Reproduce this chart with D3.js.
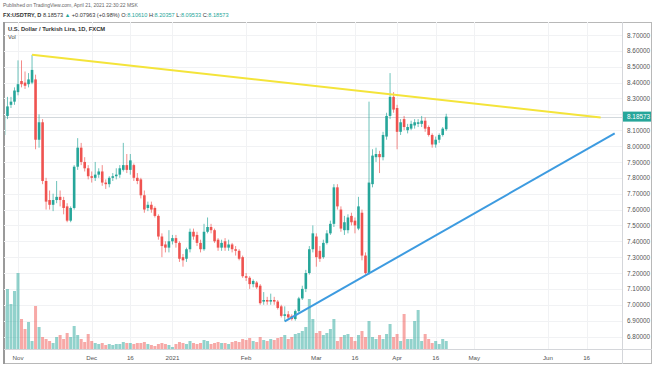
<!DOCTYPE html>
<html>
<head>
<meta charset="utf-8">
<script src="https://cdn.jsdelivr.net/npm/d3@7"></script>
<style>
  body { margin: 0; background: #fff; }
  svg { display: block; font-family: "Liberation Sans", Arial, sans-serif; }
</style>
</head>
<body>
<svg id="chart" width="654" height="366"></svg>
<script>
// daily bars, Oct 27 2020 .. Apr 21 2021 (weekdays)
const open = [8.07,8.19,8.26,8.28,8.34,8.41,8.40,8.39,8.40,8.42,8.04,8.15,7.78,7.66,7.63,7.66,7.68,7.66,7.62,7.53,
  7.61,7.87,7.99,7.90,7.86,7.81,7.80,7.82,7.84,7.77,7.76,7.80,7.81,7.82,7.85,7.88,7.85,7.88,7.80,7.79,
  7.69,7.61,7.63,7.61,7.56,7.43,7.38,7.36,7.40,7.42,7.39,7.30,7.29,7.35,7.46,7.44,7.39,7.35,7.46,7.49,
  7.47,7.41,7.36,7.40,7.36,7.38,7.35,7.34,7.30,7.18,7.17,7.13,7.14,7.12,7.02,7.03,7.02,7.03,7.02,6.99,
  6.93,6.94,6.93,6.91,6.96,7.04,7.10,7.20,7.35,7.43,7.34,7.30,7.39,7.45,7.51,7.74,7.60,7.47,7.47,7.56,
  7.53,7.48,7.58,7.31,7.20,7.76,7.93,7.95,7.93,8.06,8.19,8.31,8.24,8.09,8.17,8.10,8.11,8.13,8.14,8.14,
  8.16,8.12,8.07,8.01,8.04,8.07,8.1061];
const high = [8.21,8.31,8.31,8.37,8.54,8.54,8.47,8.46,8.575,8.45,8.20,8.17,7.80,7.72,7.70,7.78,7.72,7.68,7.64,7.62,
  7.88,8.05,8.02,7.93,7.88,7.84,7.90,7.86,7.88,7.79,7.81,7.83,7.86,7.88,8.02,7.95,7.95,7.89,7.83,7.80,
  7.72,7.65,7.65,7.62,7.57,7.45,7.40,7.47,7.44,7.44,7.40,7.32,7.36,7.48,7.48,7.46,7.41,7.51,7.55,7.51,
  7.48,7.42,7.41,7.42,7.41,7.39,7.37,7.35,7.31,7.20,7.18,7.16,7.15,7.13,7.08,7.05,7.07,7.05,7.03,7.00,
  6.99,6.96,6.94,6.97,7.05,7.12,7.22,7.37,7.50,7.45,7.37,7.41,7.47,7.53,7.76,7.76,7.62,7.56,7.57,7.58,
  7.55,7.68,7.60,7.33,8.28,7.98,7.99,7.97,8.09,8.21,8.46,8.34,8.26,8.17,8.19,8.14,8.16,8.17,8.17,8.19,
  8.18,8.13,8.08,8.06,8.08,8.12,8.20357];
const low = [8.05,8.17,8.24,8.26,8.32,8.37,8.36,8.37,8.39,7.98,7.99,7.76,7.60,7.60,7.59,7.64,7.62,7.57,7.52,7.52,
  7.60,7.85,7.88,7.84,7.79,7.77,7.78,7.80,7.75,7.73,7.74,7.78,7.79,7.80,7.84,7.83,7.82,7.78,7.76,7.67,
  7.58,7.59,7.58,7.55,7.41,7.30,7.33,7.33,7.38,7.36,7.27,7.24,7.27,7.33,7.41,7.37,7.33,7.34,7.45,7.45,
  7.39,7.34,7.34,7.34,7.34,7.33,7.31,7.28,7.17,7.15,7.10,7.11,7.10,7.00,7.00,7.00,7.00,7.00,6.97,6.92,
  6.895,6.91,6.90,6.90,6.95,7.03,7.08,7.19,7.33,7.24,7.27,7.29,7.38,7.44,7.49,7.60,7.46,7.44,7.45,7.50,
  7.45,7.47,7.28,7.19,7.19,7.74,7.90,7.83,7.91,8.04,8.17,8.21,7.98,8.07,8.10,8.08,8.10,8.11,8.12,8.12,
  8.09,8.06,7.99,7.99,8.02,8.06,8.09533];
const close = [8.19,8.25,8.28,8.35,8.39,8.39,8.38,8.42,8.48,8.04,8.15,7.78,7.65,7.63,7.66,7.68,7.66,7.61,7.53,7.61,
  7.87,7.99,7.90,7.86,7.81,7.80,7.82,7.84,7.77,7.76,7.80,7.81,7.82,7.86,7.88,7.85,7.91,7.80,7.78,7.69,
  7.60,7.63,7.60,7.56,7.43,7.37,7.36,7.40,7.42,7.39,7.29,7.28,7.35,7.46,7.43,7.39,7.35,7.46,7.49,7.47,
  7.40,7.36,7.39,7.36,7.38,7.35,7.34,7.29,7.18,7.17,7.13,7.15,7.11,7.01,7.03,7.02,7.03,7.02,6.98,6.93,
  6.94,6.92,6.91,6.96,7.04,7.10,7.20,7.35,7.45,7.30,7.29,7.39,7.45,7.51,7.74,7.62,7.48,7.52,7.55,7.52,
  7.50,7.62,7.31,7.20,7.77,7.94,7.95,7.93,8.07,8.19,8.31,8.23,8.09,8.15,8.12,8.12,8.14,8.15,8.15,8.16,
  8.11,8.07,8.01,8.04,8.07,8.11,8.18573];
// volume, thousands of ticks
const volume = [43,60,45,58,76,30,20,27,8,43,22,12,10,8,6,12,14,10,16,12,
  23,14,10,7,15,8,6,5,6,4,5,4,5,5,7,6,6,5,6,6,
  7,5,4,3,5,6,5,4,2,5,7,6,5,8,6,5,6,9,8,5,
  6,7,6,6,5,7,8,7,10,9,11,8,7,12,9,8,10,9,11,12,
  14,10,12,15,16,18,22,50,30,16,18,14,16,20,30,8,12,14,15,12,
  8,14,18,12,28,12,10,14,10,15,25,12,15,8,35,10,10,28,39,8,
  15,10,6,8,5,10,8];

const firstDay = new Date(2020, 9, 27);
const lastDay = new Date(2021, 6, 1); // axis runs to end of June

const tickDates = ["2020-11-02","2020-12-01","2020-12-16","2021-01-01","2021-02-01","2021-03-01",
  "2021-03-16","2021-04-01","2021-04-16","2021-05-03","2021-06-01","2021-06-16"];
const tickLabels = ["Nov","Dec","16","2021","Feb","Mar","16","Apr","16","May","Jun","16"];
const priceTicks = [6.8,6.9,7.0,7.1,7.2,7.3,7.4,7.5,7.6,7.7,7.8,7.9,8.0,8.1,8.2,8.3,8.4,8.5,8.6,8.7];

// drawn trend lines
const resistanceDates = ["2020-11-06","2021-06-22"];
const resistancePrices = [8.575, 8.18];
const supportDates = ["2021-02-16","2021-06-28"];
const supportPrices = [6.895, 8.08];

const up = "#26a69a", down = "#ef5350";
const fmt = d3.timeFormat("%Y-%m-%d");
const days = d3.timeDay.range(firstDay, lastDay).filter(d => d.getDay() % 6 !== 0).map(fmt);
const bars = open.map((o, i) => ({ date: days[i], o, h: high[i], l: low[i], c: close[i], v: volume[i] }));

const plotL = 4, plotR = 622, plotT = 22, plotB = 349;
const step = 3.51;

const svg = d3.select("#chart");

const x = d3.scaleBand()
  .domain(days)
  .range([3.96 - step / 2, 3.96 - step / 2 + days.length * step])
  .padding(0);
const cx = d => x(d) + x.bandwidth() / 2;

const y = d3.scaleLinear().domain([6.8, 8.7]).range([336.5, 35]);
const yVol = d3.scaleLinear().domain([0, 100]).range([plotB, plotB - 100]);

// frame
svg.append("rect").attr("x", 3.5).attr("y", 22.5).attr("width", 648).attr("height", 341)
  .attr("fill", "#fff").attr("stroke", "#b8b8b8");
svg.append("line").attr("x1", 4).attr("x2", 4).attr("y1", 22).attr("y2", 364)
  .attr("stroke", "#9a9a9a").attr("stroke-width", 2);

// grid
svg.append("g").selectAll("line").data(priceTicks).join("line")
  .attr("x1", plotL).attr("x2", plotR)
  .attr("y1", d => Math.round(y(d)) + 0.5).attr("y2", d => Math.round(y(d)) + 0.5)
  .attr("stroke", "#f1f2f4");
svg.append("g").selectAll("line").data(tickDates).join("line")
  .attr("x1", d => Math.round(cx(d)) + 0.5).attr("x2", d => Math.round(cx(d)) + 0.5)
  .attr("y1", plotT).attr("y2", plotB)
  .attr("stroke", "#f1f2f4");

// separators
svg.append("line").attr("x1", plotR + 0.5).attr("x2", plotR + 0.5).attr("y1", 22).attr("y2", 364)
  .attr("stroke", "#d4d6da");
svg.append("line").attr("x1", 4).attr("x2", 652).attr("y1", plotB + 0.5).attr("y2", plotB + 0.5)
  .attr("stroke", "#d4d6da");

svg.append("clipPath").attr("id", "plot").append("rect")
  .attr("x", plotL + 1).attr("y", plotT).attr("width", plotR - plotL - 1).attr("height", plotB - plotT);
const plot = svg.append("g").attr("clip-path", "url(#plot)");

// last price line
const last = close[close.length - 1];
plot.append("line").attr("x1", plotL).attr("x2", plotR)
  .attr("y1", Math.round(y(last)) + 0.5).attr("y2", Math.round(y(last)) + 0.5)
  .attr("stroke", "#d2d8dc");

// volume
plot.append("g").selectAll("rect").data(bars).join("rect")
  .attr("x", d => cx(d.date) - 1.5)
  .attr("width", 3)
  .attr("y", d => yVol(d.v))
  .attr("height", d => plotB - yVol(d.v))
  .attr("fill", d => d.c >= d.o ? up : down)
  .attr("fill-opacity", 0.5);

// candles
const candle = plot.append("g").selectAll("g").data(bars).join("g");
candle.append("line")
  .attr("x1", d => cx(d.date)).attr("x2", d => cx(d.date))
  .attr("y1", d => y(d.h)).attr("y2", d => y(d.l))
  .attr("stroke", d => d.c >= d.o ? up : down).attr("stroke-width", 0.9).attr("stroke-opacity", 0.75);
candle.append("rect")
  .attr("x", d => cx(d.date) - 1.3)
  .attr("width", 2.6)
  .attr("y", d => y(Math.max(d.o, d.c)))
  .attr("height", d => Math.max(1, Math.abs(y(d.o) - y(d.c))))
  .attr("fill", d => d.c >= d.o ? up : down);

// trend lines
const trend = d3.line().x(d => cx(d[0])).y(d => y(d[1]));
plot.append("path").datum(d3.zip(resistanceDates, resistancePrices))
  .attr("d", trend).attr("fill", "none").attr("stroke", "#f4e43a").attr("stroke-width", 2);
plot.append("path").datum(d3.zip(supportDates, supportPrices))
  .attr("d", trend).attr("fill", "none").attr("stroke", "#3d9be0").attr("stroke-width", 2);

// price axis
const shownTicks = priceTicks.filter(p => Math.abs(y(p) - y(last)) > 7);
const yAxis = svg.append("g").attr("transform", `translate(${plotR},0)`)
  .call(d3.axisRight(y).tickValues(shownTicks).tickFormat(d3.format(".5f")).tickSize(0).tickPadding(5));
yAxis.select(".domain").remove();
yAxis.selectAll("text").attr("font-size", 6.4).attr("fill", "#555").attr("font-family", "Liberation Sans, Arial, sans-serif");

svg.append("rect").attr("x", plotR + 1).attr("y", y(last) - 5).attr("width", 28).attr("height", 10)
  .attr("fill", up);
svg.append("text").attr("x", plotR + 5).attr("y", y(last) + 2.2)
  .attr("font-size", 6.4).attr("fill", "#fff").text(d3.format(".5f")(last));

// time axis
const xAxis = svg.append("g").attr("transform", `translate(0,${plotB})`)
  .call(d3.axisBottom(x).tickValues(tickDates).tickFormat((d, i) => tickLabels[i]).tickSize(0).tickPadding(7));
xAxis.select(".domain").remove();
xAxis.selectAll(".tick").attr("transform", d => `translate(${cx(d)},0)`);
xAxis.selectAll("text").attr("font-size", 6.2).attr("fill", "#555").attr("font-family", "Liberation Sans, Arial, sans-serif");

// header texts
svg.append("text").attr("x", 3).attr("y", 7).attr("font-size", 5).attr("fill", "#666")
  .text("Published on TradingView.com, April 21, 2021 22:30:22 MSK");
const head = svg.append("text").attr("x", 3).attr("y", 16.5).attr("font-size", 5.6).attr("fill", "#333");
head.append("tspan").attr("font-weight", "bold").text("FX:USDTRY, D ");
head.append("tspan").text("8.18573 ");
head.append("tspan").attr("fill", up).text("▲ ");
head.append("tspan").text("+0.07963 (+0.98%) ");
[["O:", "8.10610"], ["H:", "8.20357"], ["L:", "8.09533"], ["C:", "8.18573"]].forEach(([k, v]) => {
  head.append("tspan").text(k);
  head.append("tspan").attr("fill", up).text(v + " ");
});

svg.append("text").attr("x", 8).attr("y", 31).attr("font-size", 5.8).attr("font-weight", "bold").attr("fill", "#333")
  .text("U.S. Dollar / Turkish Lira, 1D, FXCM");
svg.append("text").attr("x", 8).attr("y", 39).attr("font-size", 5.6).attr("fill", "#444").text("Vol");
</script>
</body>
</html>
